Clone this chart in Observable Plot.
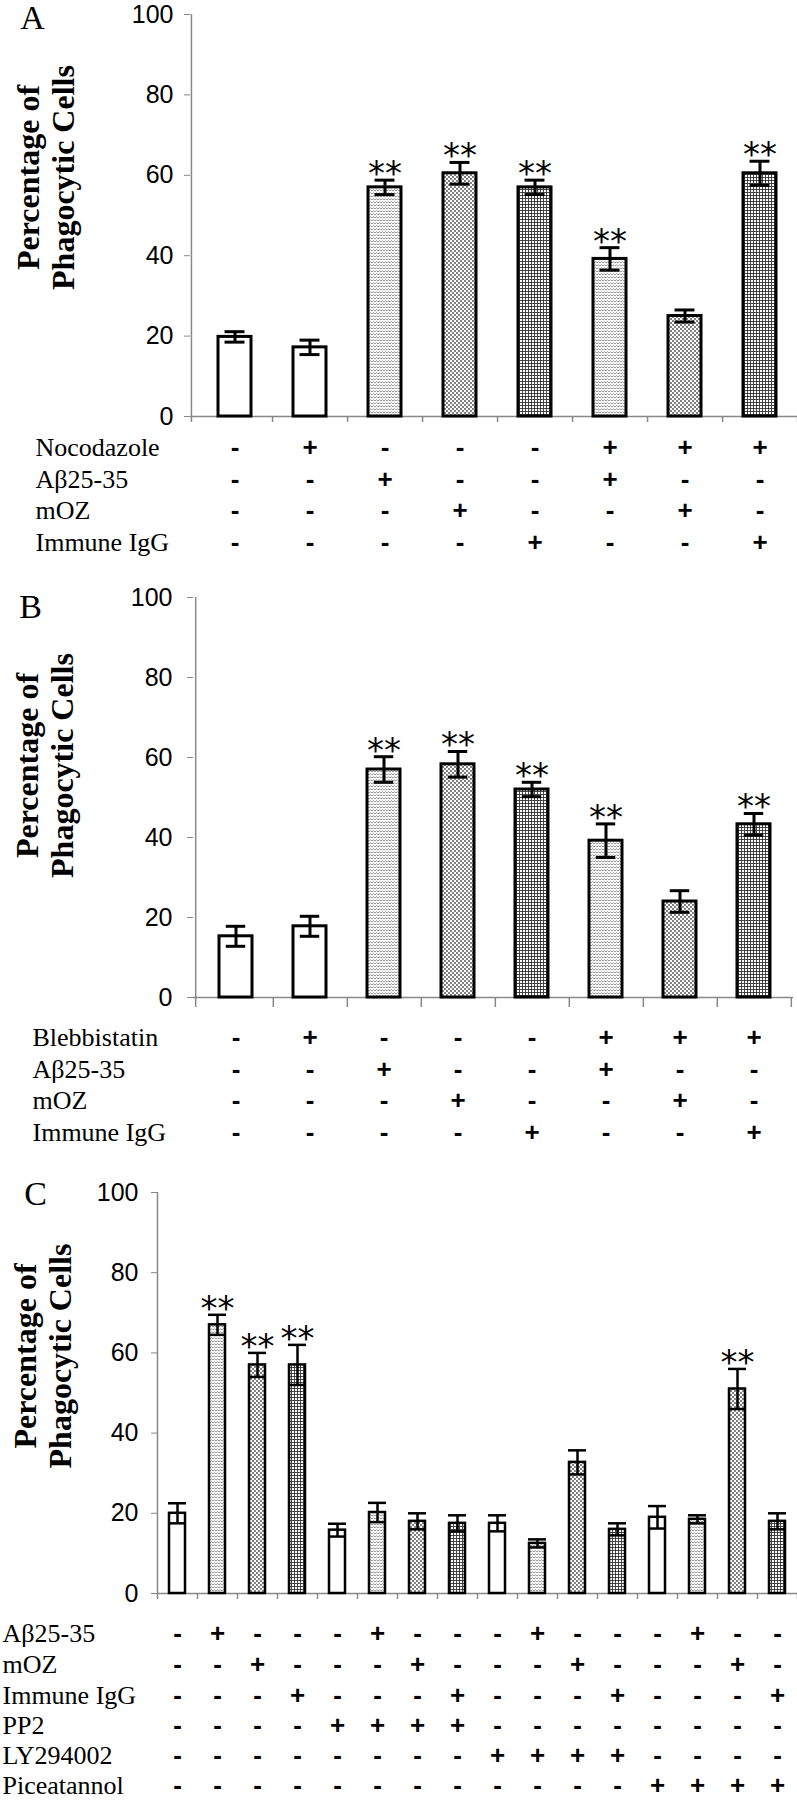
<!DOCTYPE html>
<html>
<head>
<meta charset="utf-8">
<script src="https://cdn.jsdelivr.net/npm/d3@7"></script>
<script src="https://cdn.jsdelivr.net/npm/@observablehq/plot@0.6"></script>
<style>
  body { margin: 0; background: #fff; width: 797px; }
  #chart svg { display: block; }
</style>
</head>
<body>
<svg width="0" height="0" style="position:absolute">
  <defs>
    <pattern id="pAbeta" patternUnits="userSpaceOnUse" width="6" height="3">
      <rect width="6" height="3" fill="#fff"/>
      <path d="M0,2 L1.5,0.8 L3,2 L4.5,0.8 L6,2" fill="none" stroke="#777" stroke-width="0.8"/>
    </pattern>
    <pattern id="pMoz" patternUnits="userSpaceOnUse" width="4" height="4">
      <rect width="4" height="4" fill="#fff"/>
      <circle cx="1" cy="1" r="0.9" fill="#444"/>
      <circle cx="3" cy="3" r="0.9" fill="#444"/>
    </pattern>
    <pattern id="pIgg" patternUnits="userSpaceOnUse" width="3" height="3">
      <rect width="3" height="3" fill="#fff"/>
      <path d="M0,0.5H3M0.5,0V3" stroke="#333" stroke-width="0.9"/>
    </pattern>
  </defs>
</svg>
<div id="chart"></div>
<script>
// ---------------- DATA ----------------
// Panel A
const conditionsA = ["Nocodazole", "Aβ25-35", "mOZ", "Immune IgG"];
const signsA = [
  ["-", "+", "-", "-", "-", "+", "+", "+"],
  ["-", "-", "+", "-", "-", "+", "-", "-"],
  ["-", "-", "-", "+", "-", "-", "+", "-"],
  ["-", "-", "-", "-", "+", "-", "-", "+"]
];
const valuesA = [19.8, 17.2, 57, 60.5, 57, 39.2, 25, 60.5];
const errorsA = [1.3, 1.8, 1.8, 2.7, 1.8, 2.8, 1.5, 3];
const significantA = [false, false, true, true, true, true, false, true];

// Panel B
const conditionsB = ["Blebbistatin", "Aβ25-35", "mOZ", "Immune IgG"];
const signsB = [
  ["-", "+", "-", "-", "-", "+", "+", "+"],
  ["-", "-", "+", "-", "-", "+", "-", "-"],
  ["-", "-", "-", "+", "-", "-", "+", "-"],
  ["-", "-", "-", "-", "+", "-", "-", "+"]
];
const valuesB = [15.3, 17.8, 57, 58.3, 52, 39.2, 24, 43.3];
const errorsB = [2.5, 2.5, 3.2, 3.2, 1.8, 4.2, 2.7, 2.7];
const significantB = [false, false, true, true, true, true, false, true];

// Panel C
const conditionsC = ["Aβ25-35", "mOZ", "Immune IgG", "PP2", "LY294002", "Piceatannol"];
const signsC = [
  ["-", "+", "-", "-", "-", "+", "-", "-", "-", "+", "-", "-", "-", "+", "-", "-"],
  ["-", "-", "+", "-", "-", "-", "+", "-", "-", "-", "+", "-", "-", "-", "+", "-"],
  ["-", "-", "-", "+", "-", "-", "-", "+", "-", "-", "-", "+", "-", "-", "-", "+"],
  ["-", "-", "-", "-", "+", "+", "+", "+", "-", "-", "-", "-", "-", "-", "-", "-"],
  ["-", "-", "-", "-", "-", "-", "-", "-", "+", "+", "+", "+", "-", "-", "-", "-"],
  ["-", "-", "-", "-", "-", "-", "-", "-", "-", "-", "-", "-", "+", "+", "+", "+"]
];
const valuesC = [20, 67, 57, 57, 15.8, 20.2, 18, 17.5, 17.5, 12.5, 32.7, 16, 19, 18.5, 51, 18];
const errorsC = [2.5, 2.5, 3, 5, 1.6, 2.4, 2, 2, 2, 1, 3, 1.5, 2.8, 1, 5, 2];
const significantC = [false, true, true, true, false, false, false, false, false, false, false, false, false, false, true, false];

const yTicks = [0, 20, 40, 60, 80, 100];
const yLabel = "Percentage of\nPhagocytic Cells";

// ---------------- STYLE ----------------
const treatFill = {"Aβ25-35": "url(#pAbeta)", "mOZ": "url(#pMoz)", "Immune IgG": "url(#pIgg)"};

function panel(letter, conditions, signs, values, errors, sig, L) {
  const n = values.length;
  const cols = d3.range(n);
  const rows = cols.map(i => {
    let f = "white";
    conditions.forEach((c, r) => { if (signs[r][i] === "+" && treatFill[c]) f = treatFill[c]; });
    return {i, v: values[i], e: errors[i], sig: sig[i], fill: f};
  });
  const frameW = L.width - L.ml - L.mr, step = frameW / n;
  const frameH = L.height - L.mt - L.mb, unit = frameH / 100;
  const bw = step * (1 - L.pad), capInset = bw / 2 - L.capHalf;
  const tickU = L.tick / unit;
  const axisColor = "#888";
  const marks = [
    Plot.ruleY([0], {stroke: axisColor, strokeWidth: 1.5, insetLeft: L.axisShift}),
    Plot.ruleX([0], {x: d => d, y1: -tickU, y2: 100, dx: -step / 2 + L.axisShift, stroke: axisColor, strokeWidth: 1.5}),
    Plot.ruleX(cols, {x: d => d, y1: 0, y2: -tickU, dx: step / 2, stroke: axisColor, strokeWidth: 1.5}),
    Plot.axisY({ticks: yTicks, tickSize: 6, tickPadding: L.tickPad, dx: L.axisShift, fontSize: 25,
      fontFamily: "Liberation Sans", stroke: axisColor, fill: "black", label: null})
  ];
  for (const f of [...new Set(rows.map(r => r.fill))]) {
    marks.push(Plot.barY(rows.filter(r => r.fill === f), {x: "i", y: "v", fill: f, stroke: "black", strokeWidth: L.sw}));
  }
  marks.push(
    Plot.ruleX(rows, {x: "i", y1: r => r.v - r.e, y2: r => r.v + r.e, stroke: "black", strokeWidth: L.ew}),
    Plot.tickY(rows, {x: "i", y: r => r.v + r.e, insetLeft: capInset, insetRight: capInset, stroke: "black", strokeWidth: L.ew}),
    Plot.tickY(rows, {x: "i", y: r => r.v - r.e, insetLeft: capInset, insetRight: capInset, stroke: "black", strokeWidth: L.ew}),
    Plot.text(rows.filter(r => r.sig), {x: "i", y: r => r.v + r.e, text: () => "**", dy: L.starDy,
      textAnchor: "middle", lineAnchor: "middle", fontSize: 34, fontFamily: "DejaVu Sans", fill: "black"}),
    Plot.text([letter], {text: d => d, frameAnchor: "top-left", textAnchor: "middle", lineAnchor: "middle",
      dx: L.letterDx, dy: L.letterDy, fontSize: 34, fontFamily: "Liberation Serif", fill: "black"}),
    Plot.text([yLabel], {text: d => d, frameAnchor: "left", textAnchor: "middle", lineAnchor: "middle",
      rotate: -90, dx: L.ylDx, dy: L.ylDy,
      fontSize: 32, fontWeight: "bold", fontFamily: "Liberation Serif", lineHeight: 1.1, fill: "black"})
  );
  conditions.forEach((c, r) => {
    marks.push(Plot.text([c], {text: d => d, frameAnchor: "bottom-left", textAnchor: "start", lineAnchor: "middle",
      dx: L.labelX - L.ml, dy: L.rowY[r], fontSize: 26, fontFamily: "Liberation Serif", fill: "black"}));
    marks.push(Plot.text(cols, {x: d => d, text: d => signs[r][d], frameAnchor: "bottom", dy: L.rowY[r],
      textAnchor: "middle", lineAnchor: "middle",
      fontSize: 26, fontWeight: "bold", fontFamily: "Liberation Sans", fill: "black"}));
  });
  return Plot.plot({
    width: L.width, height: L.height,
    marginLeft: L.ml, marginRight: L.mr, marginTop: L.mt, marginBottom: L.mb,
    x: {type: "band", domain: cols, paddingInner: L.pad, paddingOuter: L.pad / 2, axis: null},
    y: {domain: [0, 100]},
    style: {fontFamily: "Liberation Sans", background: "white", overflow: "hidden"},
    marks
  });
}

const layoutA = {width: 797, height: 560, ml: 196, mr: 0, mt: 14, mb: 144, pad: 0.56, sw: 3, ew: 3,
  capHalf: 10, tick: 6, tickPad: 11, axisShift: -6, starDy: -6,
  rowY: [31, 63, 94, 126], labelX: 35, letterDx: -164, letterDy: 4, ylDx: -151, ylDy: -38};
const layoutB = {width: 797, height: 600, ml: 196, mr: 4, mt: 37, mb: 163, pad: 0.55, sw: 3, ew: 3,
  capHalf: 10, tick: 10, tickPad: 15, axisShift: -3, starDy: -6,
  rowY: [40, 72, 103, 135], labelX: 32, letterDx: -166, letterDy: 10, ylDx: -152, ylDy: -32};
const layoutC = {width: 797, height: 640, ml: 157, mr: 0, mt: 32, mb: 207, pad: 0.6, sw: 2.5, ew: 2.5,
  capHalf: 9, tick: 6, tickPad: 13, axisShift: 0, starDy: -6,
  rowY: [40, 71, 102, 132, 162, 192], labelX: 2, letterDx: -122, letterDy: 2, ylDx: -115, ylDy: -37};

const root = document.getElementById("chart");
root.append(
  panel("A", conditionsA, signsA, valuesA, errorsA, significantA, layoutA),
  panel("B", conditionsB, signsB, valuesB, errorsB, significantB, layoutB),
  panel("C", conditionsC, signsC, valuesC, errorsC, significantC, layoutC)
);
</script>
</body>
</html>
